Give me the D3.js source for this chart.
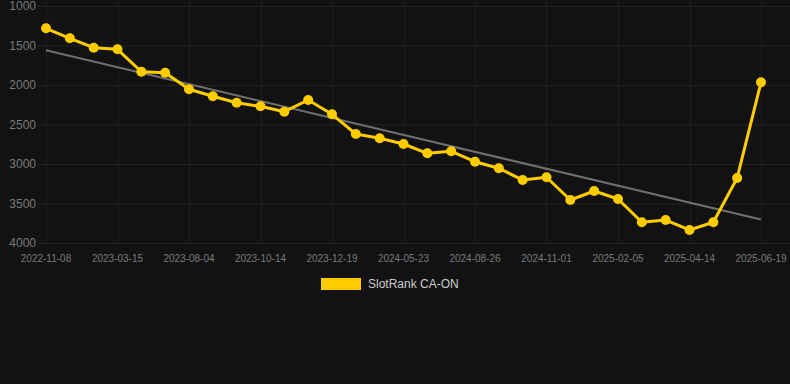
<!DOCTYPE html>
<html>
<head>
<meta charset="utf-8">
<script src="https://cdn.jsdelivr.net/npm/d3@7"></script>
<style>
  html, body { margin: 0; padding: 0; background: #121212; }
  svg { display: block; }
  text { font-family: "Liberation Sans", Arial, sans-serif; }
</style>
</head>
<body>
<svg id="chart" width="790" height="384"></svg>
<script>
  // rank values, one per snapshot (lower rank = better, axis reversed)
  var rankValues = [1282, 1409, 1528, 1548, 1832, 1844, 2054, 2143, 2224, 2270,
    2338, 2190, 2371, 2620, 2675, 2747, 2865, 2839, 2971, 3054,
    3203, 3168, 3456, 3342, 3443, 3738, 3709, 3835, 3738, 3177, 1966];

  // a date label is shown on every third point
  var tickLabels = ["2022-11-08", "2023-03-15", "2023-08-04", "2023-10-14", "2023-12-19",
    "2024-05-23", "2024-08-26", "2024-11-01", "2025-02-05", "2025-04-14", "2025-06-19"];

  var yTicks = [1000, 1500, 2000, 2500, 3000, 3500, 4000];
  var seriesName = "SlotRank CA-ON";

  var svg = d3.select("#chart");
  var lineColor = "#ffcc00";

  var x = d3.scaleLinear().domain([0, rankValues.length - 1]).range([46, 761]);
  var y = d3.scaleLinear().domain([1000, 4000]).range([6, 243]);

  // grid
  svg.append("g").selectAll("line")
    .data(yTicks)
    .enter().append("line")
    .attr("x1", 38).attr("x2", 790)
    .attr("y1", function(d) { return y(d) + 0.5; })
    .attr("y2", function(d) { return y(d) + 0.5; })
    .attr("stroke", "#222")
    .attr("stroke-width", 1);

  svg.append("g").selectAll("line")
    .data(tickLabels)
    .enter().append("line")
    .attr("x1", function(d, i) { return Math.round(x(i * 3)) + 0.5; })
    .attr("x2", function(d, i) { return Math.round(x(i * 3)) + 0.5; })
    .attr("y1", 0).attr("y2", 243)
    .attr("stroke", "#1e1e1e")
    .attr("stroke-width", 1);

  // y labels
  svg.append("g").selectAll("text")
    .data(yTicks)
    .enter().append("text")
    .text(function(d) { return d; })
    .attr("x", 36)
    .attr("y", function(d) { return y(d); })
    .attr("dy", "0.35em")
    .attr("text-anchor", "end")
    .attr("fill", "#7a7a7a")
    .style("font-size", "12px");

  // x labels
  svg.append("g").selectAll("text")
    .data(tickLabels)
    .enter().append("text")
    .text(function(d) { return d; })
    .attr("x", function(d, i) { return x(i * 3); })
    .attr("y", 262)
    .attr("text-anchor", "middle")
    .attr("fill", "#7a7a7a")
    .style("font-size", "10px");

  // linear trend from the series
  var n = rankValues.length;
  var meanX = (n - 1) / 2;
  var meanY = d3.mean(rankValues);
  var sxy = 0, sxx = 0;
  rankValues.forEach(function(v, i) {
    sxy += (i - meanX) * (v - meanY);
    sxx += (i - meanX) * (i - meanX);
  });
  var slope = sxy / sxx;
  var trend = [0, n - 1].map(function(i) { return [i, meanY + slope * (i - meanX)]; });

  svg.append("path")
    .datum(trend)
    .attr("d", d3.line().x(function(d) { return x(d[0]); }).y(function(d) { return y(d[1]); }))
    .attr("fill", "none")
    .attr("stroke", "#707070")
    .attr("stroke-width", 2);

  // series line and points
  svg.append("path")
    .datum(rankValues)
    .attr("d", d3.line().x(function(d, i) { return x(i); }).y(function(d) { return y(d); }))
    .attr("fill", "none")
    .attr("stroke", lineColor)
    .attr("stroke-width", 3)
    .attr("stroke-linejoin", "round");

  svg.append("g").selectAll("circle")
    .data(rankValues)
    .enter().append("circle")
    .attr("cx", function(d, i) { return x(i); })
    .attr("cy", function(d) { return y(d); })
    .attr("r", 5)
    .attr("fill", lineColor);

  // legend
  svg.append("rect")
    .attr("x", 321).attr("y", 278)
    .attr("width", 40).attr("height", 12)
    .attr("fill", lineColor);

  svg.append("text")
    .text(seriesName)
    .attr("x", 368).attr("y", 284)
    .attr("dy", "0.35em")
    .attr("fill", "#cccccc")
    .style("font-size", "12px");
</script>
</body>
</html>
